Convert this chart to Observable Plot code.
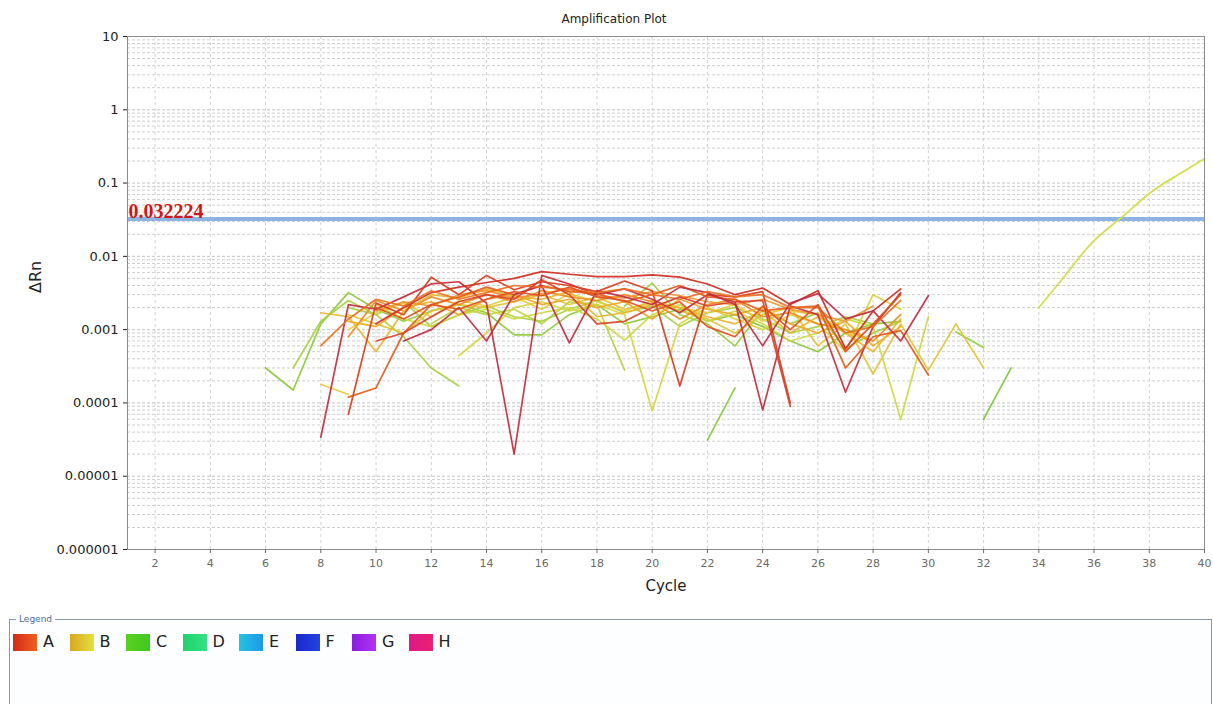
<!DOCTYPE html>
<html>
<head>
<meta charset="utf-8">
<script src="https://cdn.jsdelivr.net/npm/d3@7"></script>
<script src="https://cdn.jsdelivr.net/npm/@observablehq/plot@0.6"></script>
<style>
  body { margin: 0; background: #fff; font-family: "DejaVu Sans", sans-serif; }
  #wrap { position: relative; width: 1213px; height: 704px; overflow: hidden; background: #fff; }
  #chart { position: absolute; left: 0; top: 0; }
  #legend { position: absolute; left: 9px; top: 619px; width: 1203px; height: 120px;
            border: 1px solid #8797a8; box-sizing: border-box; background: #fdfeff; }
  #legend .cap { position: absolute; left: 6px; top: -7px; background: #fff; padding: 0 3px;
                 font-size: 9px; line-height: 12px; color: #4a6a9a; }
  #legend .item { position: absolute; top: 13px; display: flex; align-items: center; height: 18px; }
  #legend .sw { width: 24px; height: 17px; }
  #legend .lab { margin-left: 6px; font-size: 16px; color: #222; line-height: 18px; }
</style>
</head>
<body>
<div id="wrap">
  <div id="chart"></div>
  <div id="legend"><span class="cap">Legend</span></div>
</div>
<script>
// ---------- axis ticks ----------
const xTicks = [2, 4, 6, 8, 10, 12, 14, 16, 18, 20, 22, 24, 26, 28, 30, 32, 34, 36, 38, 40];
const yTicks = [10, 1, 0.1, 0.01, 0.001, 0.0001, 0.00001, 0.000001];
const yTickLabels = ["10", "1", "0.1", "0.01", "0.001", "0.0001", "0.00001", "0.000001"];
const threshold = 0.032224;
const thresholdLabel = "0.032224";
const legendWells = ["A", "B", "C", "D", "E", "F", "G", "H"];

// ---------- traces: first cycle + ΔRn per cycle ----------
const R1 = { first: 8,  dRn: [0.000034, 0.0022, 0.0019, 0.0028, 0.0042, 0.0045, 0.0023, 0.00002, 0.0055, 0.0042, 0.0030, 0.0036, 0.0026, 0.0017, 0.0030, 0.0024, 0.00008, 0.0021, 0.0016, 0.00014, 0.0011, 0.0032] };
const R2 = { first: 10, dRn: [0.0012, 0.0020, 0.0032, 0.0038, 0.0044, 0.0050, 0.0062, 0.0057, 0.0053, 0.0053, 0.0056, 0.0052, 0.0042, 0.0030, 0.0037, 0.0022, 0.0034, 0.00055, 0.0018, 0.0036] };
const R3 = { first: 9,  dRn: [0.00007, 0.0023, 0.0016, 0.0052, 0.0030, 0.0055, 0.0035, 0.0045, 0.0040, 0.0033, 0.0046, 0.0034, 0.00017, 0.0030, 0.0028, 0.0033, 0.0001] };
const R4 = { first: 9,  dRn: [0.00012, 0.00016, 0.0009, 0.0022, 0.0028, 0.0038, 0.0030, 0.0040, 0.0033, 0.0031, 0.0024, 0.0030, 0.0040, 0.0028, 0.0026, 0.0018, 0.0020, 0.0021, 0.0003, 0.0008, 0.00097, 0.00024] };
const R5 = { first: 11, dRn: [0.0007, 0.0010, 0.0020, 0.0007, 0.0030, 0.0040, 0.00066, 0.0034, 0.0028, 0.0022, 0.0038, 0.0032, 0.0022, 0.0006, 0.0023, 0.0031, 0.0014, 0.0018, 0.0007, 0.0029] };
const R6 = { first: 8,  dRn: [0.0006, 0.0014, 0.0026, 0.0021, 0.0034, 0.0026, 0.0032, 0.0040, 0.0038, 0.0035, 0.0032, 0.0036, 0.0030, 0.0026, 0.0033, 0.0028, 0.0030, 0.0020, 0.0020, 0.0009, 0.0011, 0.0025] };
const R7 = { first: 10, dRn: [0.0007, 0.0009, 0.0015, 0.0024, 0.0030, 0.0026, 0.0048, 0.0030, 0.0012, 0.0013, 0.0020, 0.0028, 0.0021, 0.0024, 0.0025, 0.00009] };
const R8 = { first: 10, dRn: [0.0020, 0.0014, 0.0022, 0.0019, 0.0026, 0.0033, 0.0029, 0.0038, 0.0028, 0.0025, 0.0018, 0.0024, 0.0011, 0.0008, 0.0021, 0.0010, 0.0022, 0.0005, 0.0012, 0.0030] };
const O1 = { first: 9,  dRn: [0.0008, 0.0025, 0.0018, 0.0028, 0.0022, 0.0030, 0.0024, 0.0034, 0.0028, 0.0025, 0.0030, 0.0024, 0.0014, 0.0022, 0.0026, 0.0015, 0.0017, 0.0012, 0.0010, 0.0007, 0.0016] };
const O2 = { first: 9,  dRn: [0.0013, 0.0011, 0.0020, 0.0024, 0.0016, 0.0026, 0.0030, 0.0022, 0.0026, 0.0020, 0.0024, 0.0014, 0.0026, 0.0019, 0.0016, 0.0020, 0.0012, 0.0009, 0.0013, 0.0006, 0.0011] };
const O3 = { first: 8,  dRn: [0.0017, 0.0015, 0.0005, 0.0018, 0.0030, 0.0027, 0.0036, 0.0028, 0.0026, 0.0033, 0.0015, 0.0017, 0.0022, 0.0020, 0.0015, 0.0012, 0.0018, 0.0009, 0.0015, 0.0009, 0.0005, 0.0014] };
const O4 = { first: 10, dRn: [0.0018, 0.0024, 0.0021, 0.0030, 0.0034, 0.0027, 0.0031, 0.0036, 0.0029, 0.0027, 0.0033, 0.0029, 0.0024, 0.0022, 0.0026, 0.0019, 0.0016, 0.0013, 0.0021] };
const Y1 = { first: 8,  dRn: [0.00018, 0.00013] };
const Y2 = { first: 13, dRn: [0.00044, 0.0009, 0.0020, 0.0024, 0.0018, 0.0022, 0.0016, 0.000078, 0.0012, 0.0020, 0.0014, 0.0010, 0.0016, 0.0012, 0.0005, 0.0030, 0.0019] };
const Y3 = { first: 9,  dRn: [0.0016, 0.0012, 0.0009, 0.0018, 0.0022, 0.0020, 0.0024, 0.0030, 0.0022, 0.0028, 0.0019, 0.0023, 0.0018, 0.0014, 0.0009, 0.0016, 0.0020, 0.0006, 0.0012, 0.00025, 0.0012, 0.00028, 0.0012, 0.0003] };
const Y4 = { first: 10, dRn: [0.0022, 0.0014, 0.0011, 0.0016, 0.0019, 0.0014, 0.0017, 0.0020, 0.0014, 0.00072, 0.0016, 0.0022, 0.0013, 0.0018, 0.0012, 0.0007, 0.0009, 0.0014, 0.0011, 0.00006, 0.0015] };
const Y6 = { first: 9,  dRn: [0.0010, 0.0017, 0.0023, 0.0015, 0.0025, 0.0021, 0.0028, 0.0019, 0.0031, 0.0024, 0.0018, 0.0025, 0.0020, 0.0017, 0.0022, 0.0013, 0.0018, 0.0016, 0.0009, 0.0007] };
const G1 = { first: 6,  dRn: [0.0003, 0.00015, 0.0012, 0.0032, 0.0019, 0.0013, 0.0018, 0.0022, 0.0017, 0.00085, 0.00085, 0.0016, 0.0022, 0.0012, 0.0015, 0.0019, 0.0013, 0.0016, 0.0011, 0.0007, 0.0005, 0.0009, 0.0012, 0.0013] };
const G2 = { first: 7,  dRn: [0.0003, 0.0013, 0.0025, 0.0016, 0.0008, 0.0003, 0.00017] };
const G3 = { first: 12, dRn: [0.0012, 0.0020, 0.0016, 0.0019, 0.0012, 0.0024, 0.0022, 0.00028] };
const G4 = { first: 19, dRn: [0.0021, 0.0043, 0.0016, 0.0012, 0.0006, 0.0019, 0.0012, 0.0017, 0.00055, 0.0009, 0.0013] };
const G5 = { first: 22, dRn: [0.000031, 0.00016] };
const G6 = { first: 31, dRn: [0.00093, 0.00057] };
const G7 = { first: 9,  dRn: [0.0020, 0.0016, 0.0024, 0.0011, 0.0016, 0.0021, 0.0015, 0.0013, 0.0019, 0.0025, 0.0017, 0.0021, 0.0011, 0.0017, 0.0020, 0.0014, 0.0009, 0.0011, 0.0015, 0.0012] };
const G8 = { first: 32, dRn: [0.00006, 0.0003] };
const B12 = { first: 34, dRn: [0.0020, 0.0058, 0.0164, 0.034, 0.072, 0.127, 0.217] };

// ---------- styles ----------
const traceColor = {
  R1: "#c42c3c", R2: "#cf2a22", R3: "#dc3a1c", R4: "#e35a1a", R5: "#bf2d45", R6: "#e8701f",
  R7: "#d8402a", R8: "#e0501e", O1: "#ec8a1e", O2: "#eea626", O3: "#e8b42c", O4: "#f09432",
  Y1: "#e0cc34", Y2: "#d8d43c", Y3: "#e2c232", Y4: "#ccd83e", Y6: "#e6cc3c",
  G1: "#8cc83c", G2: "#a8d040", G3: "#b6d444", G4: "#9ccc40", G5: "#88c83c", G6: "#90cc40",
  G7: "#a4d042", G8: "#7cc43a", B12: "#d2e04e"
};
const legendColors = {
  A: "linear-gradient(90deg,#d42a1a,#f0601c)", B: "linear-gradient(90deg,#d8a81e,#e4e040)",
  C: "linear-gradient(90deg,#5cd020,#3ec820)", D: "linear-gradient(90deg,#1ed46a,#34e084)",
  E: "linear-gradient(90deg,#22c4e2,#1c98e8)", F: "linear-gradient(90deg,#1a28cc,#2244e0)",
  G: "linear-gradient(90deg,#8a1ee0,#b232f2)", H: "linear-gradient(90deg,#e0188a,#ea2070)"
};

const traces = { G1, G2, G3, G4, G5, G6, G7, G8, Y1, Y2, Y3, Y4, Y6, O1, O2, O3, O4, R1, R2, R3, R4, R5, R6, R7, R8 };
const rows = Object.entries(traces).flatMap(([id, t]) =>
  t.dRn.map((v, i) => ({ id, cycle: t.first + i, dRn: v })));
const ampRows = B12.dRn.map((v, i) => ({ id: "B12", cycle: B12.first + i, dRn: v }));

const minorY = [];
for (let e = -6; e <= 0; e++) for (let m = 2; m <= 9; m++) minorY.push(m * Math.pow(10, e));

const chart = Plot.plot({
  width: 1213,
  height: 606,
  marginLeft: 127,
  marginRight: 9,
  marginTop: 36,
  marginBottom: 57,
  style: { fontFamily: "DejaVu Sans, sans-serif", background: "#fff", overflow: "visible" },
  x: { domain: [1, 40] },
  y: { type: "log", domain: [0.000001, 10] },
  marks: [
    Plot.ruleY(minorY, { stroke: "#cdcdcd", strokeDasharray: "3,2", strokeWidth: 1 }),
    Plot.ruleY(yTicks, { stroke: "#c4c4c4", strokeDasharray: "3,2", strokeWidth: 1 }),
    Plot.ruleX(xTicks, { stroke: "#d2d2d2", strokeDasharray: "3,3", strokeWidth: 1 }),
    Plot.ruleY([threshold], { stroke: "#8db3e2", strokeWidth: 4 }),
    Plot.line(rows, { x: "cycle", y: "dRn", z: "id", stroke: d => traceColor[d.id], strokeWidth: 1.7, strokeOpacity: 0.92 }),
    Plot.line(ampRows, { x: "cycle", y: "dRn", stroke: traceColor.B12, strokeWidth: 1.8, curve: "natural" }),
    Plot.text([threshold], { x: 1, y: d => d, text: () => thresholdLabel, textAnchor: "start", lineAnchor: "bottom",
      dx: 1, dy: -1, fill: "#cc1818", fontWeight: "bold", fontSize: 20, fontFamily: "Liberation Serif, serif" }),
    Plot.frame({ stroke: "#8c8c8c" }),
    Plot.axisX({ ticks: xTicks, tickSize: 4, tickPadding: 6, fontSize: 11, color: "#6a6a6a", label: null }),
    Plot.axisY({ ticks: yTicks, tickFormat: d => yTickLabels[yTicks.indexOf(d)], tickSize: 4, tickPadding: 5,
      fontSize: 13, color: "#222", label: null }),
    Plot.text(["Amplification Plot"], { text: d => d, frameAnchor: "top", dx: -52, dy: -17, lineAnchor: "middle", fontSize: 12, fill: "#222" }),
    Plot.text(["Cycle"], { text: d => d, frameAnchor: "bottom", dy: 37, lineAnchor: "middle", fontSize: 15, fill: "#222" }),
    Plot.text(["ΔRn"], { text: d => d, frameAnchor: "left", dx: -92, rotate: -90, lineAnchor: "middle", fontSize: 16, fill: "#222" })
  ]
});
document.getElementById("chart").appendChild(chart);

// ---------- legend ----------
const legend = document.getElementById("legend");
legendWells.forEach((w, i) => {
  const item = document.createElement("div");
  item.className = "item";
  item.style.left = (3 + i * 56.5) + "px";
  const sw = document.createElement("div");
  sw.className = "sw";
  sw.style.background = legendColors[w];
  const lab = document.createElement("span");
  lab.className = "lab";
  lab.textContent = w;
  item.appendChild(sw);
  item.appendChild(lab);
  legend.appendChild(item);
});
</script>
</body>
</html>
